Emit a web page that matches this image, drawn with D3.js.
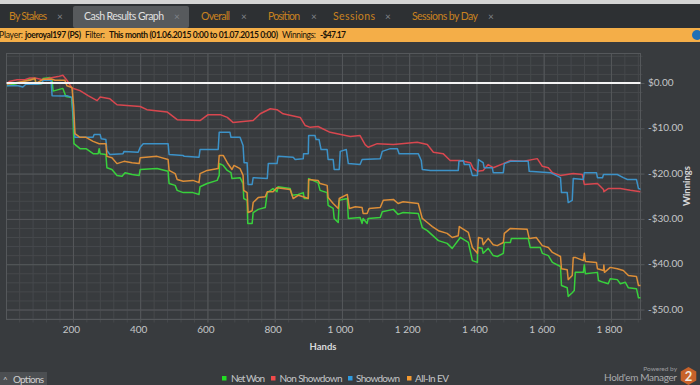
<!DOCTYPE html>
<html>
<head>
<meta charset="utf-8">
<script src="https://cdn.jsdelivr.net/npm/d3@7"></script>
<style>
	html, body { margin: 0; padding: 0; background: #383b3e; overflow: hidden; }
	svg { display: block; font-family: Lato, sans-serif; }
</style>
</head>
<body>
<div id="chart"></div>
<script>
// [hand, winnings]
const netWon = [[4,-0.6],[34,-0.1],[72,0.8],[87,1.1],[90,-0.3],[108,-0.1],[111,1.0],[132,1.2],[138,0.6],[141,-1.8],[170,-1.2],[179,-3.0],[196,-3.2],[200,-7.2],[203,-13.4],[221,-14.5],[239,-14.5],[260,-15.6],[275,-15.6],[278,-14.5],[281,-15.6],[298,-15.8],[301,-18.7],[316,-19.1],[331,-20.4],[346,-20.6],[355,-19.8],[376,-20.2],[397,-20.4],[400,-19.1],[450,-18.9],[483,-19.5],[486,-22.2],[504,-22.6],[510,-23.7],[528,-24.2],[557,-24.2],[575,-24.6],[578,-22.9],[599,-22.2],[629,-21.5],[635,-20.4],[636,-17.8],[647,-18.2],[659,-19.3],[670,-19.8],[673,-21.1],[697,-20.9],[706,-22.2],[708,-25.5],[718,-25.9],[720,-31.0],[733,-31.0],[736,-28.6],[751,-27.9],[772,-27.5],[778,-24.2],[795,-23.3],[807,-24.0],[810,-22.9],[846,-23.3],[852,-24.8],[870,-24.6],[885,-24.2],[888,-25.5],[900,-25.5],[901,-21.1],[929,-22.0],[935,-23.7],[956,-24.2],[959,-27.0],[974,-27.7],[977,-29.9],[989,-30.8],[992,-25.9],[1016,-25.5],[1019,-29.9],[1054,-29.7],[1060,-31.0],[1063,-29.9],[1075,-31.0],[1078,-29.9],[1114,-29.7],[1120,-28.4],[1153,-27.9],[1167,-29.0],[1182,-28.6],[1227,-28.8],[1239,-31.9],[1254,-32.6],[1263,-33.2],[1287,-34.8],[1313,-35.4],[1328,-36.5],[1352,-34.1],[1376,-35.2],[1388,-39.2],[1403,-39.6],[1404,-36.3],[1417,-36.5],[1420,-37.6],[1435,-36.5],[1450,-38.1],[1462,-38.3],[1480,-37.6],[1483,-35.2],[1501,-35.2],[1504,-34.3],[1554,-34.3],[1560,-36.3],[1590,-36.3],[1596,-37.6],[1614,-38.1],[1626,-39.6],[1650,-40.5],[1653,-44.7],[1670,-45.2],[1673,-47.1],[1685,-46.3],[1691,-45.8],[1694,-41.8],[1718,-41.8],[1721,-40.1],[1724,-42.1],[1760,-41.8],[1763,-43.6],[1778,-44.0],[1792,-44.3],[1798,-43.2],[1819,-43.4],[1828,-44.3],[1843,-44.0],[1852,-45.2],[1876,-45.4],[1882,-47.4],[1891,-47.4]];

const nonShowdown = [[4,-0.1],[13,0.4],[34,0.7],[57,0.7],[72,1.1],[87,1.1],[111,0.7],[132,1.1],[156,1.4],[170,1.7],[182,0.6],[197,-1.1],[221,-1.7],[245,-2.8],[272,-3.9],[281,-3.1],[310,-3.5],[331,-4.8],[400,-5.2],[420,-5.9],[480,-6.4],[510,-8.1],[578,-8.3],[602,-7.0],[638,-7.0],[659,-7.6],[676,-8.7],[736,-8.3],[757,-6.8],[787,-5.7],[807,-5.9],[825,-6.8],[876,-7.6],[891,-9.4],[906,-9.8],[929,-9.6],[965,-10.9],[1025,-11.8],[1054,-11.6],[1069,-13.6],[1078,-14.2],[1105,-13.4],[1153,-13.6],[1224,-13.1],[1254,-13.6],[1272,-15.3],[1301,-15.6],[1322,-17.1],[1352,-17.1],[1382,-17.6],[1391,-18.9],[1403,-19.5],[1420,-19.3],[1435,-18.0],[1450,-18.7],[1480,-17.8],[1501,-17.1],[1540,-17.3],[1581,-16.7],[1596,-18.4],[1614,-18.7],[1626,-19.8],[1650,-20.4],[1688,-20.0],[1715,-20.2],[1721,-22.4],[1760,-22.2],[1778,-23.5],[1779,-24.0],[1792,-23.3],[1828,-23.3],[1858,-23.7],[1888,-24.0]];

const showdown = [[4,-0.6],[37,-0.6],[51,-0.9],[60,-0.3],[93,-0.3],[108,-0.1],[111,0.6],[135,0.6],[138,-2.8],[170,-2.9],[182,-2.8],[197,-3.2],[202,-8.3],[206,-12.0],[260,-12.0],[263,-11.4],[281,-11.4],[284,-12.3],[298,-12.5],[301,-14.9],[310,-15.8],[349,-15.6],[352,-15.1],[394,-15.3],[400,-14.2],[409,-13.4],[483,-13.4],[486,-15.8],[528,-16.0],[531,-16.2],[575,-16.4],[578,-14.7],[632,-14.7],[635,-10.9],[667,-10.9],[670,-12.0],[697,-12.0],[706,-13.8],[709,-17.6],[718,-17.6],[721,-22.4],[733,-22.4],[736,-20.9],[778,-21.1],[781,-17.8],[807,-17.8],[810,-16.2],[855,-16.4],[861,-16.9],[885,-16.7],[886,-15.6],[900,-15.6],[901,-11.6],[920,-11.6],[923,-12.5],[932,-12.5],[938,-14.7],[956,-14.7],[959,-16.9],[974,-16.9],[977,-19.1],[992,-19.1],[995,-15.1],[1013,-14.7],[1019,-17.8],[1054,-18.0],[1060,-16.9],[1114,-16.7],[1120,-15.1],[1144,-14.5],[1165,-14.5],[1170,-15.6],[1227,-15.6],[1236,-17.1],[1239,-19.1],[1263,-19.3],[1346,-19.3],[1348,-17.3],[1361,-17.1],[1364,-18.0],[1379,-18.0],[1388,-20.4],[1403,-20.4],[1406,-16.9],[1420,-17.6],[1423,-18.7],[1447,-18.7],[1450,-19.8],[1480,-19.8],[1483,-17.8],[1501,-17.3],[1554,-17.3],[1557,-19.5],[1620,-19.8],[1650,-20.9],[1653,-24.2],[1670,-24.2],[1673,-26.4],[1685,-25.9],[1688,-21.1],[1718,-21.3],[1721,-19.8],[1757,-19.8],[1760,-20.9],[1775,-20.9],[1778,-20.2],[1819,-20.2],[1837,-20.9],[1849,-21.3],[1876,-21.3],[1882,-23.3],[1891,-23.5]];

const allInEv = [[4,-0.3],[72,0.6],[87,1.0],[90,-0.1],[111,0.8],[138,0.8],[147,0.6],[176,0.6],[182,-0.6],[197,-1.0],[202,-5.0],[206,-11.2],[221,-12.0],[239,-12.0],[260,-12.9],[278,-13.4],[298,-13.4],[301,-16.2],[316,-16.5],[331,-17.8],[352,-17.3],[376,-17.6],[397,-17.8],[400,-16.5],[450,-16.2],[483,-16.9],[486,-19.3],[504,-20.0],[510,-21.3],[528,-21.7],[557,-21.5],[575,-22.0],[578,-20.0],[599,-19.3],[632,-18.9],[635,-16.0],[647,-16.0],[659,-17.6],[673,-19.1],[679,-18.2],[697,-18.9],[706,-20.4],[708,-23.7],[718,-24.2],[721,-28.6],[733,-28.2],[736,-26.4],[751,-25.3],[772,-25.1],[778,-24.0],[795,-24.0],[807,-23.1],[846,-23.5],[855,-25.5],[870,-24.8],[885,-25.1],[900,-25.5],[901,-21.3],[929,-21.5],[935,-22.2],[956,-22.6],[959,-25.3],[974,-26.6],[989,-27.7],[992,-25.5],[1016,-24.6],[1022,-27.7],[1040,-27.3],[1060,-27.5],[1063,-28.8],[1075,-28.8],[1081,-27.7],[1114,-27.5],[1123,-25.9],[1153,-25.7],[1167,-26.6],[1182,-26.2],[1227,-26.6],[1239,-29.9],[1254,-30.8],[1269,-31.7],[1287,-32.6],[1313,-33.2],[1328,-34.1],[1346,-33.7],[1349,-31.7],[1376,-33.0],[1388,-36.3],[1403,-37.6],[1406,-34.1],[1417,-34.3],[1420,-35.7],[1435,-34.3],[1450,-35.7],[1462,-35.9],[1480,-35.2],[1483,-33.2],[1501,-32.1],[1551,-32.3],[1557,-34.3],[1578,-34.1],[1596,-35.9],[1614,-36.3],[1626,-37.4],[1650,-38.3],[1653,-41.0],[1670,-41.2],[1673,-43.4],[1685,-42.5],[1688,-38.5],[1694,-38.5],[1718,-39.2],[1721,-37.6],[1724,-39.4],[1757,-39.6],[1760,-41.0],[1778,-41.4],[1779,-40.2],[1781,-41.8],[1798,-40.7],[1819,-41.0],[1837,-41.4],[1852,-42.5],[1876,-42.7],[1882,-44.7],[1891,-44.7]];

const seriesNames = ['Net Won', 'Non Showdown', 'Showdown', 'All-In EV'];
const handTicks = [200, 400, 600, 800, 1000, 1200, 1400, 1600, 1800];
const winTicks = [0, -10, -20, -30, -40, -50];
const tabNames = ['By Stakes', 'Cash Results Graph', 'Overall', 'Position', 'Sessions', 'Sessions by Day'];

const width = 700, height = 385;
const plot = {left: 6.5, right: 640.5, top: 53.5, bottom: 319.5};

const svg = d3.select('#chart').append('svg')
	.attr('width', width)
	.attr('height', height);

svg.append('rect').attr('width', width).attr('height', height).attr('fill', '#383b3e');

// ###
// TOP BARS
// ###

svg.append('rect').attr('width', width).attr('height', 4).attr('fill', '#d4d4d4');
svg.append('rect').attr('y', 4).attr('width', width).attr('height', 24).attr('fill', '#2d3033');
svg.append('rect').attr('x', 73).attr('y', 6).attr('width', 116).attr('height', 22).attr('rx', 2).attr('fill', '#575a5d');
svg.append('rect').attr('y', 28).attr('width', width).attr('height', 14).attr('fill', '#f4ae48');

const tabText = [9, 84, 201, 268, 333, 412];
const tabClose = [60, 177, 244, 314, 388, 491];
const tabWidths = [38, 80, 29, 32, 42, 66];

tabNames.forEach((name, i) => {
	svg.append('text')
		.attr('x', tabText[i]).attr('y', 20)
		.attr('font-size', 10.5)
		.attr('textLength', tabWidths[i])
		.attr('fill', i === 1 ? '#e0e0e0' : '#c9821f')
		.text(name);
	svg.append('text')
		.attr('x', tabClose[i]).attr('y', 20)
		.attr('text-anchor', 'middle')
		.attr('font-size', 10)
		.attr('fill', '#80848a')
		.text('×');
});

const infoBits = [
	[-1, 'Player:', 400, 24], [25, 'joeroyal197 (PS)', 700, 56], [85, 'Filter:', 400, 20],
	[109, 'This month (01.06.2015 0:00 to 01.07.2015 0:00)', 700, 169],
	[282, 'Winnings:', 400, 34], [320, '-$47.17', 700, 26]
];

svg.selectAll('.info')
	.data(infoBits)
	.join('text')
	.attr('class', 'info')
	.attr('x', d => d[0]).attr('y', 38)
	.attr('font-size', 8.5)
	.attr('font-weight', d => d[2])
	.attr('textLength', d => d[3])
	.attr('fill', '#1c1408')
	.text(d => d[1]);

svg.append('circle').attr('cx', 697).attr('cy', 35).attr('r', 5).attr('fill', '#1e6fb5');

// ###
// SET SCALES, AXES, ETC.
// ###

const x = d3.scaleLinear()
	.domain([2.4, 1888])
	.range([plot.left, plot.right]);

const y = d3.scaleLinear()
	.domain([6.5, -52.2])
	.range([plot.top, plot.bottom]);

const innerH = plot.bottom - plot.top;
const innerW = plot.right - plot.left;

const minorHands = d3.range(40, 1888, 40);
const minorWins = d3.range(6, -53, -2);

const gridMinorX = svg.append('g')
	.attr('transform', `translate(0, ${plot.top})`)
	.call(d3.axisBottom(x).tickValues(minorHands).tickSize(innerH + 3).tickFormat(''));

const gridMinorY = svg.append('g')
	.attr('transform', `translate(${plot.left}, 0)`)
	.call(d3.axisRight(y).tickValues(minorWins).tickSize(innerW + 2).tickFormat(''));

[gridMinorX, gridMinorY].forEach(g => {
	g.select('.domain').remove();
	g.selectAll('line').attr('stroke', '#46494c');
});

const xAxis = svg.append('g')
	.attr('transform', `translate(0, ${plot.top})`)
	.call(d3.axisBottom(x).tickValues(handTicks).tickSize(innerH + 3)
		.tickPadding(3)
		.tickFormat(d => d3.format(',')(d).replace(',', ' ')));

const yAxis = svg.append('g')
	.attr('transform', `translate(${plot.left}, 0)`)
	.call(d3.axisRight(y).tickValues(winTicks).tickSize(innerW + 4)
		.tickFormat(d => (d < 0 ? '-$' : '$') + Math.abs(d).toFixed(2)));

[xAxis, yAxis].forEach(g => {
	g.select('.domain').remove();
	g.selectAll('line').attr('stroke', '#55585b');
	g.selectAll('text').attr('fill', '#c4c6c8').attr('font-size', 10).attr('font-family', 'Lato, sans-serif');
});

xAxis.selectAll('text').attr('dx', -2);
yAxis.selectAll('text').attr('x', 641.5).attr('dy', '0.25em');

svg.append('rect')
	.attr('x', plot.left).attr('y', plot.top)
	.attr('width', innerW).attr('height', innerH)
	.attr('fill', 'none')
	.attr('stroke', '#55585b');

// ###
// MAKE THE LINES
// ###

const line = d3.line()
	.x(d => x(d[0]))
	.y(d => y(d[1]));

const lineColors = ['#38d03c', '#d8474f', '#3c92c8', '#dc8e38'];

svg.append('clipPath').attr('id', 'plot-clip').append('rect')
	.attr('x', plot.left).attr('y', plot.top)
	.attr('width', innerW).attr('height', innerH);

const lines = svg.append('g').attr('clip-path', 'url(#plot-clip)');

[netWon, nonShowdown, showdown, allInEv].forEach((values, i) => {
	lines.append('path')
		.datum(values)
		.attr('d', line)
		.attr('stroke', lineColors[i])
		.attr('stroke-width', 1.5)
		.attr('fill', 'none')
		.attr('stroke-linejoin', 'round');
});

svg.append('line')
	.attr('x1', plot.left).attr('x2', plot.right)
	.attr('y1', y(0)).attr('y2', y(0))
	.attr('stroke', '#f4f4f4')
	.attr('stroke-width', 2);

// ###
// TITLES, LEGEND, FOOTER
// ###

svg.append('text')
	.attr('x', 323).attr('y', 350)
	.attr('text-anchor', 'middle')
	.attr('font-size', 9.5)
	.attr('font-weight', 700)
	.attr('fill', '#d8d9da')
	.text('Hands');

svg.append('text')
	.attr('transform', 'translate(690, 186) rotate(-90)')
	.attr('text-anchor', 'middle')
	.attr('font-size', 9.5)
	.attr('font-weight', 700)
	.attr('fill', '#d8d9da')
	.text('Winnings');

const legendColors = ['#22dd22', '#f04a4a', '#2e9be0', '#f59a30'];
const legendBox = [222, 271, 348, 407];
const legendText = [231, 279.5, 356, 415];
const legendWidths = [34, 63, 44, 34];

seriesNames.forEach((name, i) => {
	svg.append('rect')
		.attr('x', legendBox[i]).attr('y', 376)
		.attr('width', 4.5).attr('height', 4.5)
		.attr('fill', legendColors[i]);
	svg.append('text')
		.attr('x', legendText[i]).attr('y', 381.5)
		.attr('font-size', 10)
		.attr('textLength', legendWidths[i])
		.attr('fill', '#c4c6c8')
		.text(name);
});

svg.append('rect').attr('y', 372).attr('width', 47).attr('height', 13).attr('fill', '#4c4f52');
svg.append('text').attr('x', 3).attr('y', 383).attr('font-size', 8).attr('fill', '#d0d0d0').text('^');
svg.append('text').attr('x', 13).attr('y', 383).attr('font-size', 10).attr('textLength', 31).attr('fill', '#d0d0d0').text('Options');

svg.append('text')
	.attr('x', 677).attr('y', 371)
	.attr('text-anchor', 'end')
	.attr('font-size', 6.5)
	.attr('fill', '#9a9c9e')
	.text('Powered by');

svg.append('text')
	.attr('x', 677).attr('y', 380.5)
	.attr('text-anchor', 'end')
	.attr('font-size', 10)
	.attr('textLength', 73)
	.attr('fill', '#a8aaac')
	.text("Hold'em Manager");

const hexagon = d3.range(6).map(i => {
	const a = Math.PI / 6 + i * Math.PI / 3;
	return [688.5 + 9 * Math.cos(a), 376 + 9 * Math.sin(a)];
});

svg.append('polygon')
	.attr('points', hexagon.join(' '))
	.attr('fill', '#c8622a');

svg.append('text')
	.attr('x', 688.5).attr('y', 380.5)
	.attr('text-anchor', 'middle')
	.attr('font-size', 13)
	.attr('font-weight', 700)
	.attr('fill', '#f0e6dc')
	.text('2');
</script>
</body>
</html>
